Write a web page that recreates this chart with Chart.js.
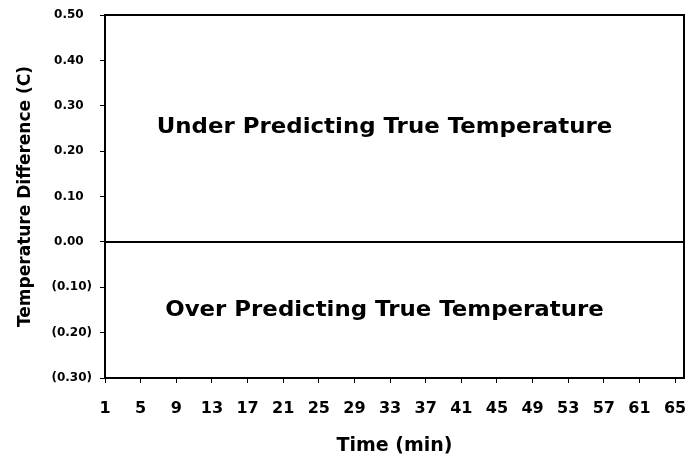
<!DOCTYPE html>
<html>
<head>
<meta charset="utf-8">
<script src="https://cdn.jsdelivr.net/npm/chart.js@4"></script>
<style>
  html, body { margin: 0; padding: 0; background: #fff; }
  #wrap { width: 690px; height: 461px; }
</style>
</head>
<body>
<div id="wrap"><canvas id="tempDiff"></canvas></div>
<script>
// time in minutes, 1..66 (labels shown every 4th)
const minutes = [1,2,3,4,5,6,7,8,9,10,11,12,13,14,15,16,17,18,19,20,21,22,23,24,25,26,27,28,29,30,31,32,33,34,35,36,37,38,39,40,41,42,43,44,45,46,47,48,49,50,51,52,53,54,55,56,57,58,59,60,61,62,63,64,65,66];
// temperature difference (C), flat at zero
const tempDiff = [0,0,0,0,0,0,0,0,0,0,0,0,0,0,0,0,0,0,0,0,0,0,0,0,0,0,0,0,0,0,0,0,0,0,0,0,0,0,0,0,0,0,0,0,0,0,0,0,0,0,0,0,0,0,0,0,0,0,0,0,0,0,0,0,0,0];
const yMin = -0.30, yMax = 0.50, yStep = 0.10;
const notes = [
  { text: "Under Predicting True Temperature", value: 0.252 },
  { text: "Over Predicting True Temperature", value: -0.150 },
];

const FONT = "'DejaVu Sans', 'Liberation Sans', Arial, sans-serif";

// accounting style: negatives in brackets, positives padded to line up
const fmtTick = (v) => {
  const r = Math.round(v * 100) / 100;
  if (r < 0) return "(" + Math.abs(r).toFixed(2) + ")";
  return r.toFixed(2) + "\u2007";
};

// box round the plot area + the two annotation texts
const frameAndNotes = {
  id: "frameAndNotes",
  afterDraw(chart) {
    const { ctx, chartArea: a, scales } = chart;
    ctx.save();
    ctx.strokeStyle = "#000";
    ctx.lineWidth = 2;
    ctx.strokeRect(a.left, a.top, a.right - a.left, a.bottom - a.top);
    ctx.fillStyle = "#000";
    ctx.font = "bold 22px " + FONT;
    ctx.textAlign = "center";
    ctx.textBaseline = "middle";
    const cx = (a.left + a.right) / 2 - 10;
    notes.forEach((n) => {
      ctx.save();
      ctx.translate(cx, scales.y.getPixelForValue(n.value));
      ctx.scale(1.04, 1);
      ctx.fillText(n.text, 0, 0);
      ctx.restore();
    });
    ctx.restore();
  },
};

new Chart(document.getElementById("tempDiff"), {
  type: "line",
  data: {
    labels: minutes,
    datasets: [
      {
        label: "Temperature Difference",
        data: tempDiff,
        borderColor: "#000",
        borderWidth: 2,
        pointRadius: 0,
        tension: 0,
      },
    ],
  },
  options: {
    responsive: true,
    maintainAspectRatio: false,
    animation: false,
    layout: { padding: { top: 15, right: 6, left: 0, bottom: 0 } },
    plugins: {
      legend: { display: false },
      tooltip: { enabled: false },
    },
    scales: {
      x: {
        offset: false,
        grid: {
          display: true,
          drawOnChartArea: false,
          drawTicks: true,
          tickLength: 5,
          color: (c) => (c.index % 4 === 0 ? "#000" : "rgba(0,0,0,0)"),
        },
        border: { display: true, color: "#000", width: 2 },
        ticks: {
          autoSkip: false,
          maxRotation: 0,
          padding: 16,
          color: "#000",
          font: { family: FONT, weight: "bold", size: 16 },
          callback: (v, i) => (i % 4 === 0 ? minutes[i] : ""),
        },
        title: {
          display: true,
          text: "Time (min)",
          color: "#000",
          font: { family: FONT, weight: "bold", size: 19 },
          padding: { top: 0, bottom: 4 },
        },
        afterFit: (s) => {
          s.height = 83;
          s.paddingLeft = 0;
          s.paddingRight = 0;
        },
      },
      y: {
        min: yMin,
        max: yMax,
        grid: { display: true, drawOnChartArea: false, drawTicks: true, tickLength: 5, color: "#000" },
        border: { display: true, color: "#000", width: 2 },
        ticks: {
          stepSize: yStep,
          padding: 8,
          color: "#000",
          font: { family: FONT, weight: "bold", size: 12 },
          callback: fmtTick,
        },
        title: {
          display: true,
          text: "Temperature Difference (C)",
          color: "#000",
          font: { family: FONT, weight: "bold", size: 17 },
          padding: { top: 15, bottom: 0 },
        },
        afterFit: (s) => {
          s.width = 105;
          s.paddingTop = 0;
          s.paddingBottom = 0;
        },
      },
    },
  },
  plugins: [frameAndNotes],
});
</script>
</body>
</html>
